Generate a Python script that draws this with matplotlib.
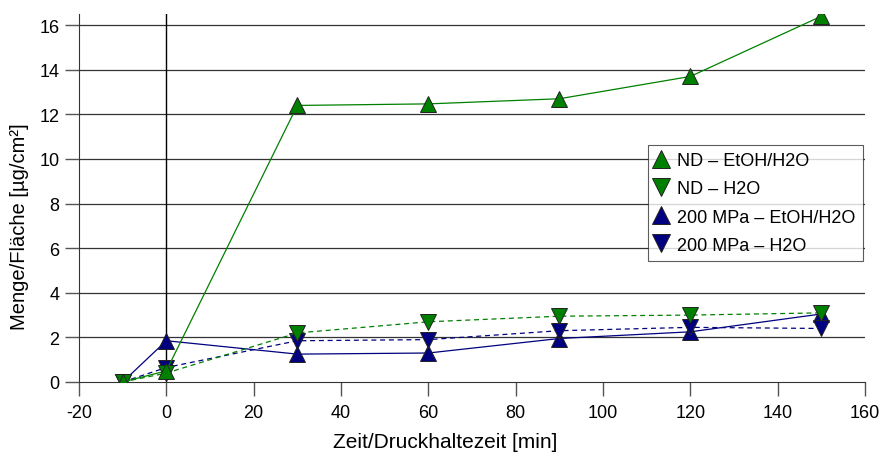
import matplotlib
matplotlib.use("Agg")
import matplotlib.pyplot as plt

plt.rcParams['font.family'] = ['Liberation Sans', 'DejaVu Sans']
plt.rcParams['axes.unicode_minus'] = False

# Sampling times (min) and measured amount per area (µg/cm²)
zeit = [-10, 0, 30, 60, 90, 120, 150]
nd_etoh = [0.0, 0.5, 12.4, 12.47, 12.7, 13.7, 16.4]
nd_h2o = [0.0, 0.4, 2.2, 2.7, 2.95, 3.0, 3.1]
mpa_etoh = [0.0, 1.85, 1.25, 1.3, 1.95, 2.25, 3.05]
mpa_h2o = [0.0, 0.65, 1.85, 1.9, 2.3, 2.45, 2.4]

labels = ["ND – EtOH/H2O", "ND – H2O", "200 MPa – EtOH/H2O", "200 MPa – H2O"]
green = "#008000"
navy = "#000080"

fig = plt.figure(figsize=(8.85, 4.6), dpi=100)
ax = fig.add_axes([79 / 885, 77 / 460, 786 / 885, 368 / 460])

for yv in range(2, 17, 2):
    ax.axhline(yv, color="#333333", lw=0.9, zorder=0)
ax.axvline(0, color="black", lw=1.0, zorder=0.5)

mk = dict(markersize=12, markeredgecolor="#222222", markeredgewidth=0.7)
h3, = ax.plot(zeit, mpa_etoh, color=navy, lw=0.9, marker="^", markerfacecolor=navy,
              label=labels[2], zorder=2, **mk)
h4, = ax.plot(zeit, mpa_h2o, color=navy, lw=0.9, ls=(0, (4, 3)), marker="v",
              markerfacecolor=navy, label=labels[3], zorder=2.1, **mk)
h2, = ax.plot(zeit, nd_h2o, color=green, lw=0.9, ls=(0, (4, 3)), marker="v",
              markerfacecolor=green, label=labels[1], zorder=3, **mk)
h1, = ax.plot(zeit, nd_etoh, color=green, lw=0.9, marker="^", markerfacecolor=green,
              label=labels[0], zorder=3.1, **mk)

ax.set_xlim(-20, 160)
ax.set_ylim(0, 16.5)
ax.set_xticks(range(-20, 161, 20))
ax.set_yticks(range(0, 17, 2))
ax.tick_params(axis="both", labelsize=13, length=10, width=1, color="#555555", direction="out")
ax.tick_params(axis="x", pad=6)
ax.tick_params(axis="y", pad=4)

for s in ["top", "right"]:
    ax.spines[s].set_visible(False)
ax.spines["left"].set_color("#333333")
ax.spines["bottom"].set_color("#333333")

ax.set_xlabel("Zeit/Druckhaltezeit [min]", fontsize=15)
ax.xaxis.set_label_coords(0.466, -0.135)
ax.set_ylabel("Menge/Fläche [µg/cm²]", fontsize=14.5)
ax.yaxis.set_label_coords(-0.064, 0.424)

leg = ax.legend(handles=[h1, h2, h3, h4], loc="upper left", bbox_to_anchor=(0.724, 0.644),
                fontsize=13, frameon=True, fancybox=False, edgecolor="#333333",
                handlelength=0.6, handletextpad=0.6, labelspacing=0.62,
                borderpad=0.4, borderaxespad=0, markerscale=1.1)
for h in leg.legend_handles:
    h.set_linestyle("none")
leg.get_frame().set_linewidth(0.8)
leg.set_zorder(5)

fig.savefig("out.png", dpi=100)
